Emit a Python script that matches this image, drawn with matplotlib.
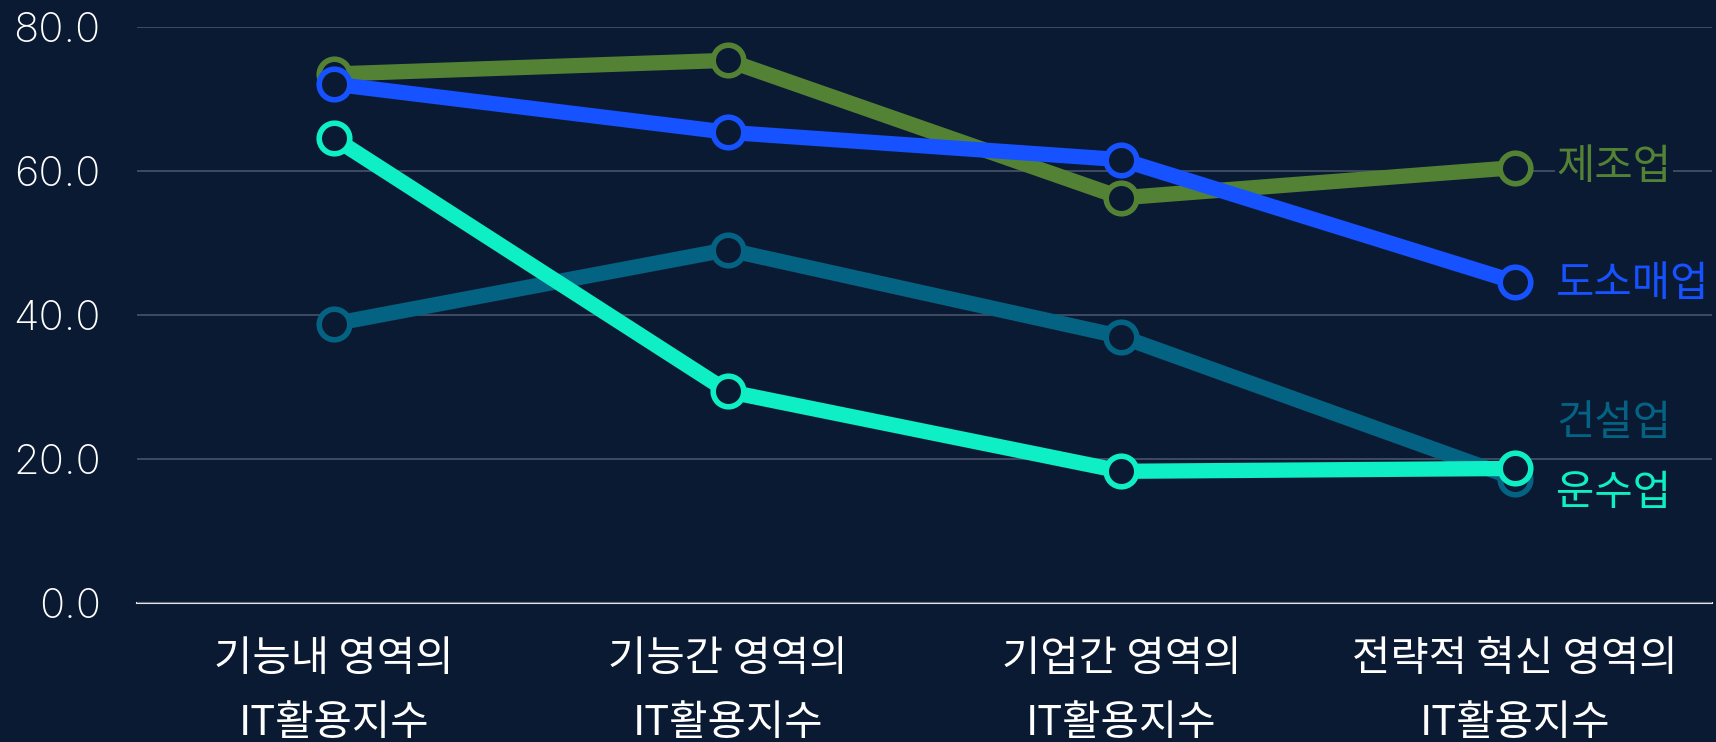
import matplotlib
matplotlib.use("Agg")
import matplotlib.pyplot as plt

plt.rcParams['font.family'] = ['Noto Sans CJK KR', 'DejaVu Sans']

categories = ["기능내 영역의\nIT활용지수", "기능간 영역의\nIT활용지수",
              "기업간 영역의\nIT활용지수", "전략적 혁신 영역의\nIT활용지수"]
series_names = ["제조업", "건설업", "도소매업", "운수업"]
manufacturing = [73.5, 75.4, 56.3, 60.5]
construction = [38.8, 49.1, 37.0, 17.3]
wholesale = [72.1, 65.4, 61.6, 44.6]
transport = [64.6, 29.4, 18.3, 18.7]
yticks = [0, 20, 40, 60, 80]

series_values = [manufacturing, construction, wholesale, transport]
colors = ["#548235", "#046282", "#1652FF", "#0EEFC5"]
# label vertical positions (layout, to avoid overlap)
label_y = [60.5, 24.9, 44.3, 15.2]

BG = "#0B1A33"
fig = plt.figure(figsize=(17.16, 7.42), dpi=100, facecolor=BG)
ax = fig.add_axes([0.0798, 0.1873, 0.918, 0.776])
ax.set_facecolor(BG)

x = list(range(len(categories)))
for i, (name, vals, c) in enumerate(zip(series_names, series_values, colors)):
    ax.plot(x, vals, color=c, lw=11, marker='o', ms=22, mew=4,
            mfc=BG, mec=c, zorder=3 + i, clip_on=False, solid_capstyle='butt')
    ax.text(x[-1] + 0.104, label_y[i], name, color=c, fontsize=30, va='center', ha='left',
            zorder=10, bbox=dict(facecolor=BG, edgecolor='none', pad=1))

ax.set_xlim(-0.5, 3.5)
ax.set_ylim(0, 80)
ax.set_yticks(yticks)
ax.set_yticklabels([f"{v:.1f}" for v in yticks], family=['Inter', 'DejaVu Sans'],
                   fontweight='light')
ax.set_xticks(x)
ax.set_xticklabels(categories, linespacing=1.7)

ax.grid(axis='y', color='#46536A', lw=1.2, zorder=0)
ax.grid(axis='x', visible=False)
for s in ['top', 'right', 'left']:
    ax.spines[s].set_visible(False)
ax.spines['bottom'].set_color('#E6E6E6')
ax.spines['bottom'].set_linewidth(1.5)
ax.spines['bottom'].set_zorder(1)

ax.tick_params(axis='y', length=0, pad=26, labelsize=30, labelcolor='white')
ax.tick_params(axis='x', length=0, pad=26, labelsize=30, labelcolor='white')

fig.savefig("out.png", dpi=100, facecolor=BG)
